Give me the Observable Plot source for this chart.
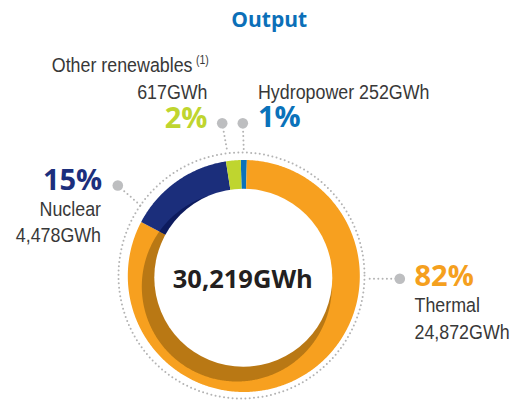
<!DOCTYPE html>
<html><head><meta charset="utf-8">
<script src="https://cdn.jsdelivr.net/npm/d3@7"></script>
<script src="https://cdn.jsdelivr.net/npm/@observablehq/plot@0.6"></script>
<style>body{margin:0;background:#fff}</style>
</head><body><div id="chart"></div>
<script>
// ---- data ----
const title = "Output";
const categories = ["Thermal", "Nuclear", "Other renewables", "Hydropower"];
const valuesGWh = [24872, 4478, 617, 252];
const percentLabels = ["82%", "15%", "2%", "1%"];
const valueLabels = ["24,872GWh", "4,478GWh", "617GWh", "252GWh"];
const totalLabel = "30,219GWh";
const footnoteMarks = ["", "", "(1)", ""];

// ---- styles ----
const sliceColors = ["#f7a01f", "#1b2e7b", "#bfd52f", "#0a72ba"];
const shadowColors = ["#b97814", "#0d1b5e", "#879a1f", "#064f86"];
const pctColors = ["#f5a01e", "#1c2f7d", "#bfd52f", "#0a72ba"];
const textColor = "#383838";
const regFont = "'Liberation Sans', Arial, sans-serif";
const boldFont = "'Open Sans', sans-serif";
const narrow = 0.87;

// ---- layout ----
const C = {x: 243.3, y: 275.5};      // donut centre
const outerR = 116;
const shadow = {dx: -7, dy: 10.5, r: 95};
const hole = {x: 242.8, y: 277.2, r: 89};
const ring = {x: 241, y: 275, r: 123};
const drawOrder = [3, 0, 1, 2];      // clockwise from top: hydro, thermal, nuclear, other
const startDeg = -1.5;
const labelPos = [
  {pct: [414, 285, "start"], name: [414, 311.7, "start"], val: [414, 338.3, "start"], dot: [399.3, 278.3], lead: [369, 278.3]},
  {pct: [101.7, 189.3, "end"], name: [100.5, 215, "end"], val: [100.5, 241.7, "end"], dot: [117.3, 185], lead: [140, 205]},
  {pct: [207, 127.3, "end"], name: [192, 71.7, "end"], val: [207, 98.3, "end"], dot: [221.7, 122.7], lead: [226.5, 149.5], sup: [195.5, 63.5]},
  {pct: [257.5, 126.7, "start"], name: [257.5, 98.3, "start"], dot: [242.3, 122.7], lead: [243.3, 150.5], inline: true}
];

// ---- geometry from values ----
const pie = d3.pie().sort(null).value(i => valuesGWh[i])
  .startAngle(startDeg * Math.PI / 180).endAngle(startDeg * Math.PI / 180 + 2 * Math.PI);
const arcs = pie(drawOrder);
const step = Math.PI / 360;
function angles(a0, a1) {
  const n = Math.max(2, Math.ceil((a1 - a0) / step));
  return d3.range(n + 1).map(k => a0 + (a1 - a0) * k / n);
}
const wedges = [], shadows = [];
for (const a of arcs) {
  const i = a.data;
  wedges.push({id: "w" + i, x: C.x, y: C.y, c: sliceColors[i]});
  shadows.push({id: "s" + i, x: C.x, y: C.y, c: shadowColors[i]});
  for (const t of angles(a.startAngle, a.endAngle)) {
    const ux = Math.sin(t), uy = -Math.cos(t);
    wedges.push({id: "w" + i, x: C.x + outerR * ux, y: C.y + outerR * uy, c: sliceColors[i]});
    const uo = ux * shadow.dx + uy * shadow.dy;
    const d = uo + Math.sqrt(uo * uo - (shadow.dx ** 2 + shadow.dy ** 2) + shadow.r ** 2);
    shadows.push({id: "s" + i, x: C.x + d * ux, y: C.y + d * uy, c: shadowColors[i]});
  }
}

// ---- label tables ----
const pctRows = categories.map((c, i) => ({t: percentLabels[i], x: labelPos[i].pct[0], y: labelPos[i].pct[1], a: labelPos[i].pct[2], c: pctColors[i]}));
const regRows = [];
categories.forEach((c, i) => {
  const L = labelPos[i];
  if (L.inline) regRows.push({t: c + " " + valueLabels[i], x: L.name[0], y: L.name[1], a: L.name[2]});
  else {
    regRows.push({t: c, x: L.name[0], y: L.name[1], a: L.name[2]});
    regRows.push({t: valueLabels[i], x: L.val[0], y: L.val[1], a: L.val[2]});
  }
});
const supRows = categories.map((c, i) => ({t: footnoteMarks[i], L: labelPos[i]})).filter(d => d.t)
  .map(d => ({t: d.t, x: d.L.sup[0], y: d.L.sup[1]}));
const leaders = labelPos.map(L => ({x1: L.dot[0], y1: L.dot[1], x2: L.lead[0], y2: L.lead[1]}));

const dotted = {stroke: "#b3b3b3", strokeWidth: 2, strokeDasharray: "0 4.3", strokeLinecap: "round"};
const byAnchor = (rows, a) => rows.filter(d => d.a === a);

const chart = Plot.plot({
  width: 520, height: 403, margin: 0,
  x: {domain: [0, 520], range: [0, 520], axis: null},
  y: {domain: [0, 403], range: [0, 403], axis: null},
  color: {type: "identity"},
  style: {background: "#fff"},
  marks: [
    Plot.dot([0], {x: ring.x, y: ring.y, r: ring.r, fill: "none", ...dotted}),
    Plot.link(leaders, {x1: "x1", y1: "y1", x2: "x2", y2: "y2", ...dotted}),
    Plot.line(wedges, {x: "x", y: "y", z: "id", fill: "c", stroke: "none", curve: "linear-closed"}),
    Plot.line(shadows, {x: "x", y: "y", z: "id", fill: "c", stroke: "none", curve: "linear-closed"}),
    Plot.dot([0], {x: hole.x, y: hole.y, r: hole.r, fill: "#fff", stroke: "none"}),
    Plot.dot(labelPos, {x: d => d.dot[0], y: d => d.dot[1], r: 5.3, fill: "#bdbec0", stroke: "none"}),
    Plot.text([title], {x: 268.7, y: 26.7, text: d => d, textAnchor: "middle", lineAnchor: "bottom", fontFamily: boldFont, fontWeight: 700, fontSize: 21, fill: "#0b6fb8"}),
    Plot.text([totalLabel], {x: C.x - 1, y: 287.3, text: d => d, textAnchor: "middle", lineAnchor: "bottom", fontFamily: boldFont, fontWeight: 700, fontSize: 25.5, fill: "#231f20"}),
    ...["start", "end"].map(a => Plot.text(byAnchor(pctRows, a), {x: "x", y: "y", text: "t", textAnchor: a, lineAnchor: "bottom", fontFamily: boldFont, fontWeight: 700, fontSize: 29, fill: "c"})),
    ...["start", "end"].map(a => Plot.text(byAnchor(regRows, a), {x: "x", y: "y", text: "t", textAnchor: a, lineAnchor: "bottom", fontFamily: regFont, fontSize: 20.5, fill: textColor, className: "narrow"})),
    Plot.text(supRows, {x: "x", y: "y", text: "t", textAnchor: "start", lineAnchor: "bottom", fontFamily: regFont, fontSize: 12, fill: textColor, className: "narrow"})
  ]
});
// condensed rendering of the regular label face
d3.select(chart).selectAll(".narrow text").each(function () {
  const tr = this.getAttribute("transform");
  if (tr) this.setAttribute("transform", tr + ` scale(${narrow},1)`);
});
document.getElementById("chart").appendChild(chart);
</script></body></html>
